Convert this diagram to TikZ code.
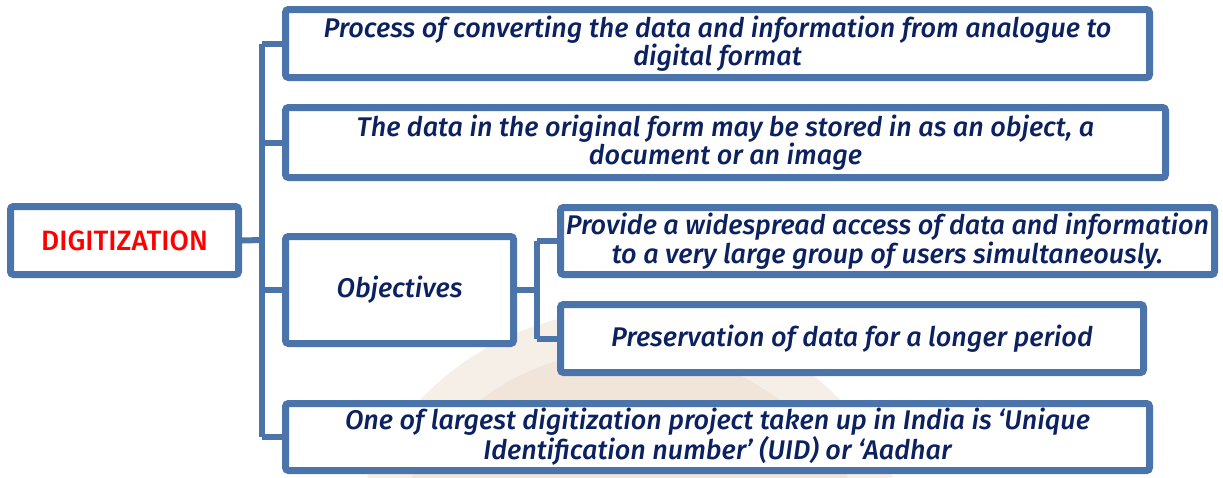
\documentclass[tikz,border=0pt]{standalone}
\usepackage{fontspec}
\setmainfont{Fira Sans}[ItalicFont={Fira Sans Medium Italic}, BoldFont={Fira Sans Medium}]
\usetikzlibrary{shadows}
\definecolor{boxblue}{HTML}{4A74AA}
\definecolor{navy}{HTML}{0B2160}
\definecolor{globe}{HTML}{B87A3A}
\tikzset{
  card/.style={draw=boxblue, line width=7pt, fill=white, rounded corners=3pt,
    inner sep=0pt, align=center, text=navy,
    font=\itshape\fontsize{27}{27}\selectfont,
    drop shadow={shadow xshift=2pt, shadow yshift=-3pt, fill=black, opacity=0.18}},
  link/.style={draw=boxblue, line width=6pt}
}
\begin{document}
\begin{tikzpicture}[x=1pt,y=-1pt]
\useasboundingbox (0,0) rectangle (1223,477);
% faint background globe
\fill[globe, opacity=0.12] (630,600) circle (290);
\fill[globe, opacity=0.08] (630,600) circle (250);
% trunk coordinates
\coordinate (tr) at (262,240);
\coordinate (sb) at (537,290);
% nodes
\node[card, minimum width=228pt, minimum height=68pt, text=red,
  font=\bfseries\fontsize{28}{27}\selectfont] (dig) at (124.5,240.5) {DIGITIZATION};
\node[card, minimum width=864pt, minimum height=68pt] (b1) at (717.5,43.5)
  {Process of converting the data and information from analogue to\\digital format};
\node[card, minimum width=880pt, minimum height=70pt] (b2) at (725.5,142.5)
  {The data in the original form may be stored in as an object, a\\document or an image};
\node[card, minimum width=228pt, minimum height=107pt] (obj) at (399.5,290)
  {Objectives};
\node[card, minimum width=654pt, minimum height=67pt] (s1) at (887.5,241)
  {Provide a widespread access of data and information\\to a very large group of users simultaneously.};
\node[card, minimum width=583pt, minimum height=68pt] (s2) at (852,338.5)
  {Preservation of data for a longer period};
\node[card, minimum width=864pt, minimum height=67pt] (b4) at (717.5,437)
  {One of largest digitization project taken up in India is ‘Unique\\Identification number’ (UID) or ‘Aadhar};
% connectors
\draw[link] (dig.east) -- (tr);
\draw[link] (tr |- b1.west) -- (tr |- b4.west);
\draw[link] (tr |- b1.west) -- (b1.west);
\draw[link] (tr |- b2.west) -- (b2.west);
\draw[link] (tr |- obj.west) -- (obj.west);
\draw[link] (tr |- b4.west) -- (b4.west);
\draw[link] (obj.east |- sb) -- (sb);
\draw[link] (sb |- s1.west) -- (sb |- s2.west);
\draw[link] (sb |- s1.west) -- (s1.west);
\draw[link] (sb |- s2.west) -- (s2.west);
\end{tikzpicture}
\end{document}
